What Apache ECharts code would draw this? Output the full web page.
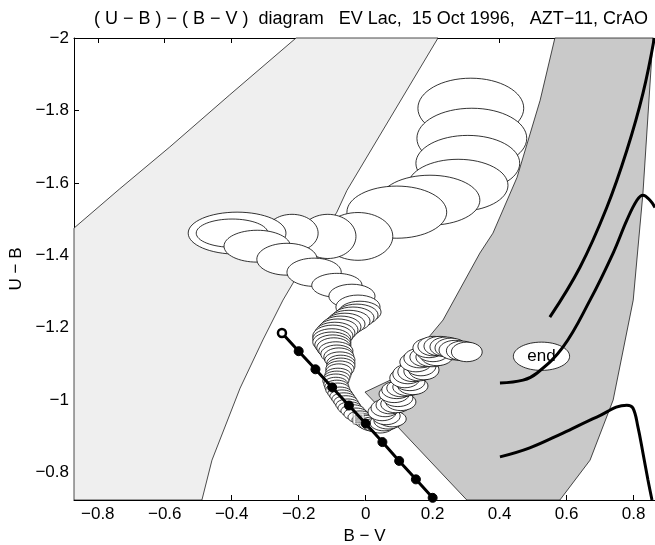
<!DOCTYPE html>
<html><head><meta charset="utf-8">
<script src="https://cdn.jsdelivr.net/npm/echarts@6/dist/echarts.min.js"></script>
<style>html,body{margin:0;padding:0;background:#fff}#c{width:655px;height:545px}</style>
</head><body><div id="c"></div>
<script>
// Axis ticks
const bvTicks = [-0.8,-0.6,-0.4,-0.2,0,0.2,0.4,0.6,0.8];
const ubTicks = [-2,-1.8,-1.6,-1.4,-1.2,-1,-0.8];

// Light grey band (polygon vertices, B-V / U-B)
const lightBandX = [-0.871,-0.735,-0.585,-0.406,-0.208, 0.216,-0.056,-0.086,-0.217,-0.247,-0.307,-0.375,-0.459,-0.489,-0.871];
const lightBandY = [-1.475,-1.583,-1.699,-1.843,-2.000,-2.000,-1.579,-1.519,-1.323,-1.276,-1.166,-1.033,-0.834,-0.724,-0.724];

// Dark grey band
const darkBandX = [0.302,-0.002,0.087,0.186,0.231,0.341,0.380,0.452,0.521,0.565,0.858,0.828,0.799,0.739,0.670,0.580];
const darkBandY = [-0.724,-1.022,-1.061,-1.171,-1.221,-1.406,-1.461,-1.615,-1.828,-2.000,-2.000,-1.571,-1.276,-1.000,-0.834,-0.724];

// Line with markers
const bbX = [-0.25,-0.20,-0.15,-0.10,-0.05,0.00,0.05,0.10,0.15,0.20];
const bbY = [-1.185,-1.135,-1.085,-1.035,-0.985,-0.935,-0.884,-0.832,-0.781,-0.730];

// Thick curves on the right
const curveAX = [0.550,0.640,0.720,0.780,0.828,0.862];
const curveAY = [-1.229,-1.367,-1.532,-1.690,-1.847,-2.000];
const curveBX = [0.401,0.470,0.511,0.589,0.670,0.739,0.780,0.810,0.828,0.849,0.864];
const curveBY = [-1.047,-1.055,-1.074,-1.146,-1.276,-1.406,-1.497,-1.552,-1.566,-1.552,-1.532];
const curveCX = [0.401,0.490,0.589,0.690,0.780,0.798,0.813,0.828,0.843,0.855];
const curveCY = [-0.843,-0.868,-0.909,-0.953,-0.986,-0.978,-0.926,-0.854,-0.779,-0.724];

// Error ellipses in time order: centre B-V, centre U-B, half-width (B-V), half-height (U-B)
const ellBV = [
  0.314,0.317,0.305,0.276,0.192,0.093,
  -0.023,-0.113,-0.220,-0.384,-0.399,-0.324,-0.235,-0.154,-0.086,-0.041,-0.023,
  -0.017,-0.026,-0.038,-0.050,-0.062,-0.074,-0.083,-0.092,-0.098,-0.101,-0.101,-0.098,-0.095,-0.089,-0.086,
  -0.080,-0.077,-0.074,-0.074,-0.077,-0.080,-0.083,-0.086,-0.089,-0.089,-0.086,-0.083,-0.077,-0.071,-0.065,-0.059,
  -0.053,-0.047,-0.038,-0.029,-0.017,-0.005,0.007,0.019,0.031,0.043,
  0.055,0.067,0.079,0.061,0.049,0.058,0.073,0.090,0.105,0.096,0.085,0.093,0.108,0.126,0.141,0.132,
  0.117,0.126,0.141,0.159,0.174,0.165,0.150,0.162,0.180,0.198,0.213,0.201,0.189,0.204,0.222,0.240,0.255,0.267,0.287,0.302];
const ellUB = [
  -1.806,-1.723,-1.654,-1.593,-1.552,-1.519,
  -1.452,-1.452,-1.461,-1.461,-1.461,-1.425,-1.389,-1.353,-1.317,-1.287,-1.257,
  -1.243,-1.235,-1.227,-1.218,-1.210,-1.202,-1.194,-1.185,-1.177,-1.169,-1.160,-1.152,-1.144,-1.136,-1.127,
  -1.119,-1.111,-1.102,-1.094,-1.086,-1.078,-1.069,-1.061,-1.053,-1.044,-1.036,-1.028,-1.019,-1.011,-1.003,-0.995,
  -0.986,-0.978,-0.970,-0.961,-0.953,-0.945,-0.939,-0.934,-0.931,-0.928,
  -0.937,-0.942,-0.948,-0.956,-0.967,-0.978,-0.986,-0.989,-0.995,-1.006,-1.017,-1.028,-1.033,-1.036,-1.039,-1.050,
  -1.061,-1.072,-1.078,-1.080,-1.083,-1.094,-1.105,-1.116,-1.119,-1.119,-1.122,-1.133,-1.144,-1.149,-1.149,-1.147,-1.144,-1.138,-1.136,-1.133];
const ellA = [
  0.158,0.164,0.155,0.149,0.149,0.149,
  0.104,0.084,0.078,0.146,0.107,0.099,0.090,0.081,0.075,0.069,0.066,
  0.063,0.063,0.063,0.063,0.060,0.060,0.060,0.060,0.060,0.057,0.057,0.054,0.051,0.051,0.048,
  0.045,0.045,0.042,0.042,0.042,0.039,0.039,0.039,0.039,0.036,0.036,0.036,0.036,0.036,0.036,0.036,
  0.036,0.036,0.036,0.036,0.036,0.036,0.036,0.039,0.039,0.039,
  0.042,0.042,0.042,0.042,0.042,0.042,0.042,0.045,0.045,0.045,0.045,0.045,0.045,0.045,0.045,0.045,
  0.045,0.045,0.045,0.045,0.045,0.045,0.048,0.048,0.048,0.048,0.048,0.048,0.048,0.048,0.048,0.048,0.048,0.048,0.046,0.046];
const ellB = [
  0.083,0.083,0.077,0.072,0.069,0.072,
  0.066,0.061,0.052,0.058,0.039,0.044,0.044,0.039,0.033,0.033,0.033,
  0.030,0.030,0.030,0.030,0.030,0.030,0.030,0.030,0.030,0.028,0.028,0.028,0.028,0.025,0.025,
  0.025,0.022,0.022,0.022,0.022,0.022,0.019,0.019,0.019,0.019,0.019,0.019,0.017,0.017,0.017,0.017,
  0.017,0.017,0.017,0.017,0.017,0.017,0.019,0.019,0.019,0.019,
  0.022,0.022,0.022,0.024,0.024,0.024,0.024,0.024,0.024,0.024,0.024,0.024,0.024,0.024,0.024,0.024,
  0.027,0.027,0.027,0.027,0.027,0.027,0.027,0.027,0.027,0.027,0.027,0.027,0.027,0.027,0.027,0.027,0.027,0.027,0.027,0.027];

// "end" label
const endBV = 0.525, endUB = -1.121, endA = 0.084, endB = 0.039;
// small marker
const markBV = -0.021, markUB = -0.949;

const FONT = "'Liberation Sans', Arial, Helvetica, sans-serif";
const fmt = v => String(v).replace('-', '\u2212');

function polySeries(xs, ys, fill) {
  return {
    type: 'custom', coordinateSystem: 'cartesian2d', silent: true,
    data: [[xs[0], ys[0]]],
    renderItem: (p, api) => ({
      type: 'polygon',
      shape: { points: xs.map((x, i) => api.coord([x, ys[i]])) },
      style: { fill: fill, stroke: '#000', lineWidth: 0.7 }
    })
  };
}
function lineSeries(xs, ys) {
  return {
    type: 'line', data: xs.map((x, i) => [x, ys[i]]), smooth: 0.4, symbol: 'none',
    lineStyle: { color: '#000', width: 3 }, silent: true
  };
}

const ellData = ellBV.map((x, i) => [x, ellUB[i], ellA[i], ellB[i]]);

const chart = echarts.init(document.getElementById('c'), null, { renderer: 'canvas' });
chart.setOption({
  animation: false,
  backgroundColor: '#fff',
  title: {
    text: '( U \u2212 B ) \u2212 ( B \u2212 V )  diagram   EV Lac,  15 Oct 1996,   AZT\u221211, CrAO',
    left: 366, top: 5, textAlign: 'center',
    textStyle: { fontFamily: FONT, fontSize: 18, fontWeight: 'normal', color: '#000' }
  },
  grid: { left: 74, top: 38, right: 0, bottom: 45, containLabel: false, outerBoundsMode: 'none' },
  xAxis: [{
    type: 'value', min: -0.871, max: 0.864,
    name: 'B \u2212 V', nameLocation: 'middle', nameGap: 27,
    nameTextStyle: { fontFamily: FONT, fontSize: 17, color: '#000' },
    axisLine: { show: true, onZero: false, lineStyle: { color: '#000', width: 1 } },
    axisTick: { show: true, inside: true, length: 5, customValues: bvTicks, lineStyle: { color: '#000' } },
    axisLabel: { customValues: bvTicks, formatter: fmt, margin: 6, fontFamily: FONT, fontSize: 17, color: '#000' },
    splitLine: { show: false }
  }, {
    type: 'value', min: -0.871, max: 0.864, position: 'top',
    axisLine: { show: true, onZero: false, lineStyle: { color: '#000', width: 1 } },
    axisTick: { show: true, inside: true, length: 5, customValues: bvTicks, lineStyle: { color: '#000' } },
    axisLabel: { show: false },
    splitLine: { show: false }
  }],
  yAxis: [{
    type: 'value', min: -2, max: -0.724, inverse: true,
    name: 'U \u2212 B', nameLocation: 'middle', nameGap: 45, nameRotate: 90,
    nameTextStyle: { fontFamily: FONT, fontSize: 17, color: '#000' },
    axisLine: { show: true, onZero: false, lineStyle: { color: '#000', width: 1 } },
    axisTick: { show: true, inside: true, length: 5, customValues: ubTicks, lineStyle: { color: '#000' } },
    axisLabel: { customValues: ubTicks, formatter: fmt, margin: 5, fontFamily: FONT, fontSize: 17, color: '#000' },
    splitLine: { show: false }
  }],
  series: [
    polySeries(lightBandX, lightBandY, '#efefef'),
    polySeries(darkBandX, darkBandY, '#c9c9c9'),
    lineSeries(curveAX, curveAY),
    lineSeries(curveBX, curveBY),
    lineSeries(curveCX, curveCY),
    {
      type: 'line', silent: true,
      data: bbX.map((x, i) => i === 0
        ? { value: [x, bbY[i]], symbolSize: 8, itemStyle: { color: '#fff', borderColor: '#000', borderWidth: 2.5 } }
        : [x, bbY[i]]),
      symbol: 'circle', symbolSize: 9, showSymbol: true,
      itemStyle: { color: '#000', borderColor: '#000' },
      lineStyle: { color: '#000', width: 3 }
    },
    {
      type: 'custom', coordinateSystem: 'cartesian2d', silent: true,
      data: ellData,
      renderItem: (p, api) => {
        const c = api.coord([api.value(0), api.value(1)]);
        const s = api.size([api.value(2), api.value(3)]);
        return { type: 'ellipse', shape: { cx: c[0], cy: c[1], rx: s[0], ry: s[1] },
          style: { fill: '#fff', stroke: '#000', lineWidth: 0.8 } };
      }
    },
    {
      type: 'custom', coordinateSystem: 'cartesian2d', silent: true,
      data: [[endBV, endUB, endA, endB]],
      renderItem: (p, api) => {
        const c = api.coord([api.value(0), api.value(1)]);
        const s = api.size([api.value(2), api.value(3)]);
        return { type: 'group', children: [
          { type: 'ellipse', shape: { cx: c[0], cy: c[1], rx: s[0], ry: s[1] },
            style: { fill: '#fff', stroke: '#000', lineWidth: 0.8 } },
          { type: 'text', x: c[0], y: c[1], style: { text: 'end', fontFamily: FONT, fontSize: 17,
            fill: '#000', align: 'center', verticalAlign: 'middle' } }
        ] };
      }
    },
    {
      type: 'scatter', silent: true, data: [[markBV, markUB]],
      symbol: 'path://M0,0H10V10H0Z M2,2H8V3H2Z M2,4H8V5H2Z M2,6H8V7H2Z M2,8H8V8.6H2Z',
      symbolSize: 11, itemStyle: { color: '#fff', borderColor: '#555', borderWidth: 0.6 }
    }
  ]
});
</script></body></html>
